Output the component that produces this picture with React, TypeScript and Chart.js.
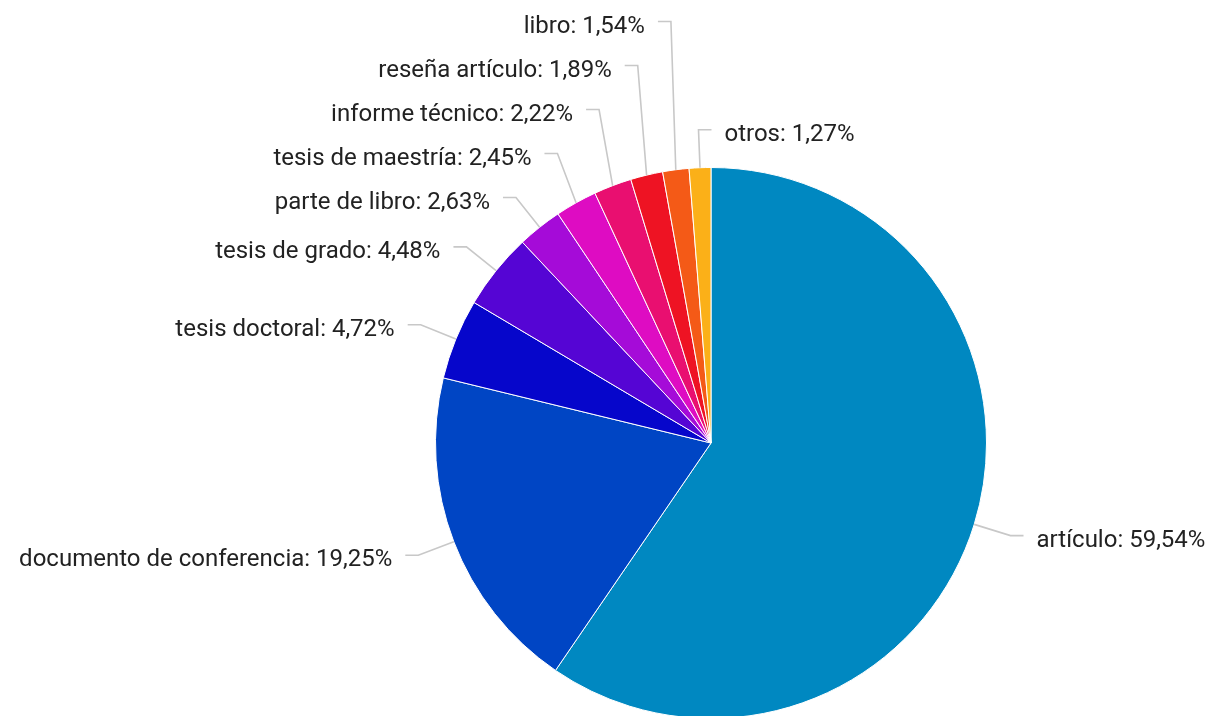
import React, { useEffect, useRef } from "react";
import { Chart, registerables } from "chart.js";

Chart.register(...registerables);

const categories = [
  "artículo",
  "documento de conferencia",
  "tesis doctoral",
  "tesis de grado",
  "parte de libro",
  "tesis de maestría",
  "informe técnico",
  "reseña artículo",
  "libro",
  "otros",
];
const values = [59.54, 19.25, 4.72, 4.48, 2.63, 2.45, 2.22, 1.89, 1.54, 1.27];
const colors = [
  "#0088c1",
  "#0045c4",
  "#0606cb",
  "#5505d4",
  "#a50bd8",
  "#de0cc2",
  "#e90f70",
  "#ee1323",
  "#f45a17",
  "#fbb018",
];

const fmt = (v: number) => v.toFixed(2).replace(".", ",") + "%";

const labelPlugin = {
  id: "leaderLabels",
  afterDatasetsDraw(chart: any) {
    const ctx = chart.ctx;
    const meta = chart.getDatasetMeta(0);
    const ELBOW = 38;
    const SEG = 13;
    const GAP = 13;
    const MIN_GAP = 44;
    const items: any[] = [];
    meta.data.forEach((arc: any, i: number) => {
      const { x, y, startAngle, endAngle, outerRadius } = arc.getProps(
        ["x", "y", "startAngle", "endAngle", "outerRadius"],
        true
      );
      const mid = (startAngle + endAngle) / 2;
      const ax = x + Math.cos(mid) * outerRadius;
      const ay = y + Math.sin(mid) * outerRadius;
      const ex = x + Math.cos(mid) * (outerRadius + ELBOW);
      const ey = y + Math.sin(mid) * (outerRadius + ELBOW);
      const right = ex >= x - 15;
      items.push({ i, ax, ay, ex, ey, right });
    });
    const left = items.filter((d) => !d.right).sort((a, b) => b.ey - a.ey);
    for (let k = 1; k < left.length; k++) {
      if (left[k - 1].ey - left[k].ey < MIN_GAP) left[k].ey = left[k - 1].ey - MIN_GAP;
    }
    const right = items.filter((d) => d.right).sort((a, b) => a.ey - b.ey);
    for (let k = 1; k < right.length; k++) {
      if (right[k].ey - right[k - 1].ey < MIN_GAP) right[k].ey = right[k - 1].ey + MIN_GAP;
    }
    ctx.save();
    ctx.font = "24px Roboto";
    ctx.textBaseline = "middle";
    items.forEach((d) => {
      const hx = d.right ? d.ex + SEG : d.ex - SEG;
      ctx.strokeStyle = "#c8c8c8";
      ctx.lineWidth = 1.6;
      ctx.beginPath();
      ctx.moveTo(d.ax, d.ay);
      ctx.lineTo(d.ex, d.ey);
      ctx.lineTo(hx, d.ey);
      ctx.stroke();
      ctx.fillStyle = "#222222";
      ctx.textAlign = d.right ? "left" : "right";
      const tx = d.right ? hx + GAP : hx - GAP;
      ctx.fillText(`${categories[d.i]}: ${fmt(values[d.i])}`, tx, d.ey + 5);
    });
    ctx.restore();
  },
};

export default function App() {
  const ref = useRef<HTMLCanvasElement>(null);
  useEffect(() => {
    if (!ref.current) return;
    const chart = new Chart(ref.current, {
      type: "pie",
      data: {
        labels: categories,
        datasets: [
          {
            data: values,
            backgroundColor: colors,
            borderColor: "#ffffff",
            borderWidth: 1,
          },
        ],
      },
      options: {
        animation: false,
        responsive: false,
        maintainAspectRatio: false,
        layout: { padding: { left: 435, right: 228, top: 167, bottom: 1 } },
        plugins: {
          legend: { display: false },
          tooltip: { enabled: false },
        },
      },
      plugins: [labelPlugin],
    });
    return () => chart.destroy();
  }, []);
  return (
    <div
      style={{
        position: "fixed",
        left: 0,
        top: 0,
        width: 1215,
        height: 716,
        overflow: "hidden",
        background: "#fff",
      }}
    >
      <canvas ref={ref} width={1215} height={720} style={{ width: 1215, height: 720, display: "block" }} />
    </div>
  );
}
